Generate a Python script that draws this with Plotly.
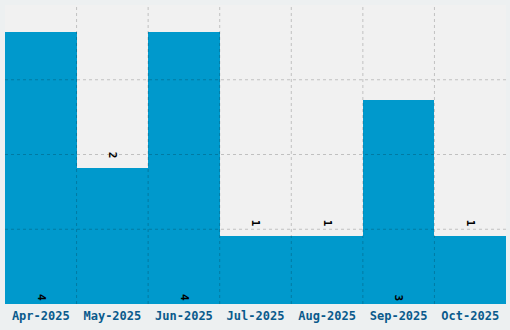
import plotly.graph_objects as go

months = ["Apr-2025", "May-2025", "Jun-2025", "Jul-2025", "Aug-2025", "Sep-2025", "Oct-2025"]
counts = [4, 2, 4, 1, 1, 3, 1]

y_max = 4.4
y_step = 1.1
inside_threshold = 3

positions = ["inside" if c >= inside_threshold else "outside" for c in counts]
labels = ["<b>%d</b>" % c if p == "inside" else "<b>%d</b>&nbsp;" % c
          for c, p in zip(counts, positions)]

fig = go.Figure(go.Bar(
    x=months, y=counts,
    marker=dict(color="#0099cc", line=dict(width=0)),
    text=labels,
    textposition=positions,
    insidetextanchor="start",
    textangle=90,
    textfont=dict(family="DejaVu Sans Mono", size=11, color="#000000"),
    cliponaxis=False,
))

grid_color = "rgba(0,0,0,0.2)"
shapes = []
n = len(months)
for i in range(1, n):
    shapes.append(dict(type="line", xref="x", yref="paper", x0=i - 0.5, x1=i - 0.5, y0=0, y1=1,
                       line=dict(color=grid_color, width=1, dash="3px,3px"), layer="above"))
k = 1
while k * y_step < y_max - 1e-9:
    shapes.append(dict(type="line", xref="paper", yref="y", x0=0, x1=1, y0=k * y_step, y1=k * y_step,
                       line=dict(color=grid_color, width=1, dash="3px,3px"), layer="above"))
    k += 1

fig.update_layout(
    width=510, height=330,
    margin=dict(l=5, r=4, t=5, b=26),
    paper_bgcolor="#edf0f1",
    plot_bgcolor="#f1f1f1",
    bargap=0,
    showlegend=False,
    shapes=shapes,
)
fig.update_xaxes(showgrid=False, showline=False, ticks="", ticklabelstandoff=3,
                 tickvals=list(range(n)), ticktext=["<b>%s</b>" % m for m in months],
                 tickfont=dict(family="DejaVu Sans Mono", size=12, color="#0a5a8c"))
fig.update_yaxes(range=[0, y_max], showgrid=False, zeroline=False, showticklabels=False, ticks="")

fig.write_html("out.html")
